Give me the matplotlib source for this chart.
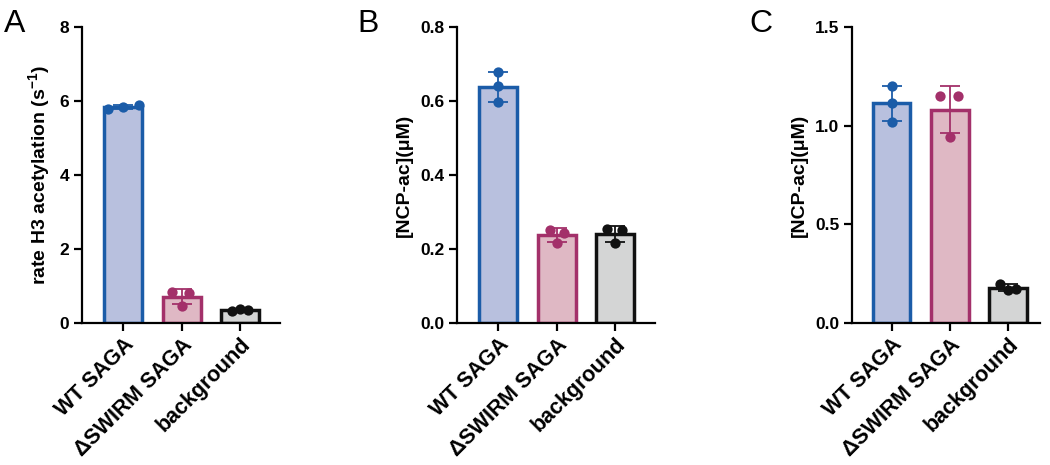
import numpy as np
import matplotlib.pyplot as plt

# ---------------- data ----------------
categories = ["WT SAGA", "\u0394SWIRM SAGA", "background"]

a_points = [[5.78, 5.85, 5.88], [0.83, 0.81, 0.47], [0.32, 0.36, 0.38]]
b_points = [[0.678, 0.640, 0.596], [0.252, 0.244, 0.217], [0.255, 0.250, 0.217]]
c_points = [[1.200, 1.117, 1.020], [1.150, 1.150, 0.945], [0.200, 0.170, 0.168]]

a_yticks = [0, 2, 4, 6, 8]
b_yticks = [0.0, 0.2, 0.4, 0.6, 0.8]
c_yticks = [0.0, 0.5, 1.0, 1.5]

a_ylabel = "rate H3 acetylation (s$^{\\mathbf{-1}}$)"
b_ylabel = "[NCP-ac](\u03bcM)"
c_ylabel = "[NCP-ac](\u03bcM)"
panel_letters = ["A", "B", "C"]

# ---------------- style ----------------
edge_colors = ["#1b5ca8", "#a3306a", "#111111"]
fill_colors = ["#b8c0de", "#dfb8c4", "#d4d5d5"]
a_jitter = [[-0.25, 0.0, 0.27], [-0.16, 0.12, 0.0], [-0.14, 0.14, 0.0]]
b_jitter = [[0.0, 0.0, 0.0], [-0.12, 0.12, 0.0], [-0.14, 0.12, 0.0]]
c_jitter = [[0.0, 0.0, 0.0], [-0.16, 0.14, 0.0], [-0.14, 0.14, 0.0]]

plt.rcParams['font.family'] = ['Liberation Sans', 'DejaVu Sans']
plt.rcParams['mathtext.fontset'] = 'custom'
plt.rcParams['mathtext.rm'] = 'Liberation Sans:bold'
plt.rcParams['mathtext.bf'] = 'Liberation Sans:bold'

fig = plt.figure(figsize=(10.5, 4.65), dpi=100)

positions = [
    [82 / 1050, 1 - 323 / 465, 198 / 1050, 296 / 465],
    [457 / 1050, 1 - 323 / 465, 198 / 1050, 296 / 465],
    [852 / 1050, 1 - 323 / 465, 188 / 1050, 296 / 465],
]
letter_x = [4 / 1050, 357 / 1050, 749 / 1050]

panels = [
    (a_points, a_yticks, a_ylabel, a_jitter, ["0", "2", "4", "6", "8"]),
    (b_points, b_yticks, b_ylabel, b_jitter, ["0.0", "0.2", "0.4", "0.6", "0.8"]),
    (c_points, c_yticks, c_ylabel, c_jitter, ["0.0", "0.5", "1.0", "1.5"]),
]

for idx, (pts, yticks, ylabel, jit, ytl) in enumerate(panels):
    ax = fig.add_axes(positions[idx])
    x = np.arange(len(categories))
    means = [np.mean(p) for p in pts]
    sds = [np.std(p, ddof=1) for p in pts]
    ax.bar(x, means, width=0.65, color=fill_colors, edgecolor=edge_colors,
           linewidth=2.5, zorder=2)
    for i in range(len(categories)):
        ax.errorbar(x[i], means[i], yerr=sds[i], fmt='none', ecolor=edge_colors[i],
                    elinewidth=1.3, capsize=7.5, capthick=1.3, zorder=3)
        ax.scatter(x[i] + np.array(jit[i]), pts[i], s=55, color=edge_colors[i],
                   zorder=4, linewidths=0)
    ax.set_ylim(yticks[0], yticks[-1])
    ax.set_yticks(yticks)
    ax.set_yticklabels(ytl, fontweight='bold', fontsize=12.5)
    if idx == 2:
        ax.set_xlim(-0.68, 2.55)
    else:
        ax.set_xlim(-0.70, 2.68)
    ax.set_xticks(x)
    ax.set_xticklabels(categories, rotation=45, ha='right', va='top',
                       rotation_mode='anchor', fontweight='bold', fontsize=15.5)
    ax.set_ylabel(ylabel, fontweight='bold', fontsize=14, labelpad=5)
    for s in ['top', 'right']:
        ax.spines[s].set_visible(False)
    for s in ['left', 'bottom']:
        ax.spines[s].set_linewidth(1.6)
    ax.tick_params(axis='both', width=1.6, length=6, direction='out', pad=3)
    ax.tick_params(axis='x', pad=2)
    fig.text(letter_x[idx], 1 - 9 / 465, panel_letters[idx], fontsize=23,
             va='top', ha='left')

fig.savefig("out.png", dpi=100)
